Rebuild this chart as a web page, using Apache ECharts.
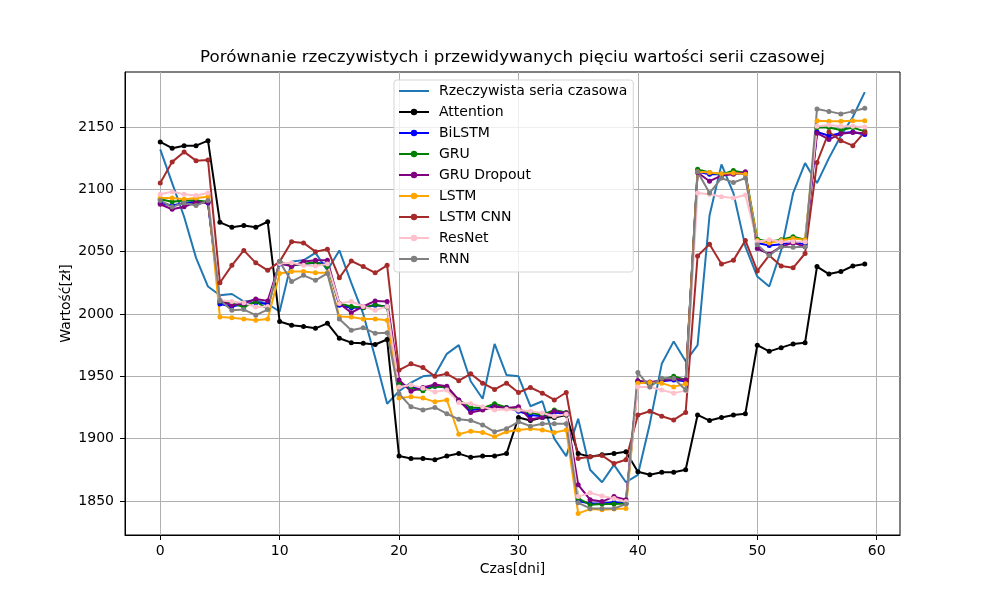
<!DOCTYPE html>
<html>
<head>
<meta charset="utf-8">
<title>Porównanie serii czasowej</title>
<script src="https://cdn.jsdelivr.net/npm/echarts@6.0.0/dist/echarts.min.js"></script>
<style>
  html, body { margin: 0; padding: 0; background: #fff; }
  #chart { width: 1000px; height: 600px; }
</style>
</head>
<body>
<div id="chart"></div>
<script>
// dni (os X)
const days = Array.from({ length: 60 }, (_, i) => i);
const xTicks = [0, 10, 20, 30, 40, 50, 60];
const yTicks = [1850, 1900, 1950, 2000, 2050, 2100, 2150];

// wartości
const real = [2132, 2105, 2078, 2045, 2022, 2015, 2016, 2010, 2011, 2008, 2002, 2042, 2043, 2049, 2035, 2051, 2025, 2000, 1965, 1928, 1938, 1945, 1950, 1951, 1968, 1975, 1946, 1932, 1976, 1951, 1950, 1926, 1930, 1900, 1886, 1916, 1875, 1865, 1879, 1865, 1871, 1912, 1960, 1978, 1962, 1975, 2079, 2120, 2097, 2054, 2030, 2022, 2051, 2097, 2121, 2105, 2125, 2143, 2158, 2178];
const attention = [2138, 2133, 2135, 2135, 2139, 2073.5, 2069.5, 2071, 2069.5, 2074, 1994, 1991, 1990, 1988.5, 1992.5, 1980.5, 1977, 1976.5, 1975.5, 1979.5, 1886, 1884, 1884, 1883, 1886, 1888, 1885, 1886, 1886, 1888, 1917, 1914.5, 1917, 1917, 1919, 1888, 1885.5, 1887, 1888, 1889.5, 1873.5, 1871, 1873, 1873, 1875, 1919, 1914.5, 1917, 1919, 1920, 1975, 1970, 1973, 1976, 1977, 2038, 2032, 2034, 2038.5, 2040];
const biLstm = [2089, 2087, 2089, 2090, 2089, 2008, 2006, 2008, 2009, 2008, 2040, 2039, 2040, 2041, 2040, 2007, 2005, 2005, 2007, 2006, 1944, 1941, 1940, 1942, 1941, 1930, 1923, 1924, 1926, 1925, 1922, 1919, 1918, 1921, 1920, 1850, 1848, 1848, 1849, 1848, 1946, 1944, 1946, 1947, 1946, 2114, 2112, 2112, 2113, 2112, 2057, 2055, 2056, 2058, 2056, 2146, 2143, 2145, 2146, 2144];
const gru = [2092, 2090, 2091, 2091, 2090, 2010, 2008.5, 2005.5, 2010, 2004, 2042, 2039, 2040, 2041.5, 2038, 2008.5, 2006, 2005, 2007.5, 2005.5, 1944.5, 1940.5, 1938.5, 1942, 1941, 1931, 1925, 1924.5, 1928, 1925, 1923, 1921, 1919, 1923, 1921, 1852, 1847, 1847.5, 1847.5, 1848, 1946, 1944.5, 1947, 1950, 1947, 2116, 2113.5, 2112, 2115, 2113, 2060, 2058, 2059.5, 2062, 2059.5, 2149.5, 2149.5, 2147.5, 2149.5, 2146.5];
const gruDropout = [2088, 2084, 2086, 2089.5, 2089.5, 2010.5, 2007, 2008.5, 2012, 2010.5, 2041, 2038, 2042, 2043, 2043, 2008.5, 2001, 2006, 2010.5, 2010, 1947, 1938, 1941, 1943.5, 1942, 1931, 1921, 1923, 1925.5, 1924.5, 1925.5, 1915.5, 1917, 1922, 1920.5, 1863, 1851, 1849.5, 1853.5, 1851, 1946.5, 1945.5, 1946.5, 1948, 1947, 2113.5, 2106.5, 2111, 2112, 2114, 2052.5, 2048, 2054, 2057, 2054, 2145, 2140, 2144.5, 2145.5, 2145];
const lstm = [2093, 2093, 2092, 2093, 2094, 1997.5, 1997, 1996, 1995, 1996, 2032.5, 2034, 2034, 2033, 2033, 1998, 1997.5, 1996, 1996, 1995, 1932.5, 1933.5, 1932.5, 1929.5, 1931, 1903.5, 1906, 1905, 1901.5, 1905.5, 1907, 1908, 1907, 1905, 1907, 1840, 1843.5, 1843, 1843.5, 1844, 1944.5, 1945, 1944.5, 1941.5, 1944, 2114, 2113.5, 2112.5, 2113, 2112, 2059, 2057, 2059, 2060.5, 2059.5, 2155, 2154.5, 2154.5, 2155, 2155];
const lstmCnn = [2105, 2122, 2130, 2123, 2123.5, 2025, 2039, 2051, 2041, 2035, 2042, 2058, 2057, 2050, 2052, 2029, 2042.5, 2038, 2033, 2039, 1955, 1960, 1957, 1950, 1952, 1946.5, 1952, 1944.5, 1939.5, 1944.5, 1937, 1941, 1936.5, 1931, 1937, 1884, 1885.5, 1886.5, 1880, 1883, 1919, 1922, 1918, 1915, 1921, 2046.5, 2056, 2040, 2043, 2059, 2034.5, 2047, 2038.5, 2037, 2048.5, 2121.5, 2146, 2139, 2135, 2146];
const resNet = [2096, 2098, 2096, 2095, 2097, 2011, 2010, 2009, 2005.5, 2006, 2040.5, 2041, 2039, 2038.5, 2040, 2008.5, 2010, 2006, 2003, 2006, 1941.5, 1943, 1940.5, 1937.5, 1939, 1929, 1928, 1925.5, 1923, 1923.5, 1923, 1922, 1920.5, 1918, 1919.5, 1853.5, 1856.5, 1854, 1852, 1849.5, 1941.5, 1941.5, 1939, 1936.5, 1938.5, 2097, 2096, 2094, 2093, 2095.5, 2058, 2059.5, 2058, 2058, 2058, 2150.5, 2151.5, 2150.5, 2150.5, 2150];
const rnn = [2091, 2086, 2089, 2087, 2091, 2011, 2003, 2003.5, 1999, 2003.5, 2042, 2026, 2031, 2027, 2032.5, 1996, 1987, 1989, 1984.5, 1985, 1936, 1925.5, 1923, 1925, 1920, 1915.5, 1914.5, 1911, 1905.5, 1908, 1913.5, 1910, 1912, 1912, 1912, 1848.5, 1844, 1844, 1844, 1847.5, 1953, 1941.5, 1948.5, 1948.5, 1939, 2114, 2097, 2109, 2105.5, 2109, 2055.5, 2047, 2054, 2053.5, 2054, 2164.5, 2162.5, 2160.5, 2162.5, 2165];

const font = 'DejaVu Sans';

// lista serii: nazwa, dane, kolor, czy z punktami
const seriesList = [
  ['Rzeczywista seria czasowa', real, '#1f77b4', false],
  ['Attention', attention, '#000000', true],
  ['BiLSTM', biLstm, '#0000ff', true],
  ['GRU', gru, '#008000', true],
  ['GRU Dropout', gruDropout, '#800080', true],
  ['LSTM', lstm, '#ffa500', true],
  ['LSTM CNN', lstmCnn, '#a52a2a', true],
  ['ResNet', resNet, '#ffc0cb', true],
  ['RNN', rnn, '#808080', true]
];

let chart = echarts.init(document.getElementById('chart'), null, { renderer: 'canvas' });

let series = seriesList.map(s => {
  return {
    name: s[0],
    type: 'line',
    data: days.map((d, i) => [d, s[1][i]]),
    symbol: s[3] ? 'circle' : 'none',
    symbolSize: 5,
    showSymbol: s[3],
    color: s[2],
    lineStyle: { width: 2, color: s[2] },
    itemStyle: { color: s[2] },
    emphasis: { disabled: true },
    animation: false
  };
});

// legenda: seria rzeczywista bez punktu
let legendData = seriesList.map(s => {
  if (s[3]) {
    return { name: s[0] };
  }
  return { name: s[0], itemStyle: { opacity: 0 } };
});

chart.setOption({
  animation: false,
  graphic: [
    {
      type: 'text',
      x: 512.5,
      y: 58,
      style: {
        text: 'Porównanie rzeczywistych i przewidywanych pięciu wartości serii czasowej',
        fontSize: 16.7,
        fontFamily: font,
        fill: '#000',
        align: 'center',
        verticalAlign: 'middle'
      }
    }
  ],
  grid: {
    left: 125,
    top: 72,
    width: 775,
    height: 463,
    show: true,
    borderColor: '#000',
    borderWidth: 1,
    backgroundColor: 'transparent'
  },
  legend: {
    orient: 'vertical',
    left: 394,
    top: 80,
    padding: [4, 6, 6, 4],
    itemWidth: 30,
    itemHeight: 8,
    itemGap: 7,
    backgroundColor: 'rgba(255,255,255,0.8)',
    borderColor: '#d5d5d5',
    borderWidth: 1,
    borderRadius: 3,
    textStyle: {
      fontFamily: font,
      fontSize: 14,
      lineHeight: 14,
      color: '#000',
      padding: [0, 0, 0, 5]
    },
    data: legendData
  },
  xAxis: {
    type: 'value',
    min: -2.95,
    max: 61.95,
    name: 'Czas[dni]',
    nameLocation: 'middle',
    nameGap: 27,
    nameMoveOverlap: false,
    nameTextStyle: { fontFamily: font, fontSize: 14, color: '#000' },
    axisLine: { show: true, onZero: false, lineStyle: { color: '#000', width: 1 } },
    axisTick: { show: true, length: 5, customValues: xTicks, lineStyle: { color: '#000' } },
    axisLabel: { customValues: xTicks, margin: 9, fontFamily: font, fontSize: 14, color: '#000' },
    splitLine: { show: true, lineStyle: { color: '#b0b0b0', width: 1 } }
  },
  yAxis: {
    type: 'value',
    min: 1822.7,
    max: 2194.1,
    name: 'Wartość[zł]',
    nameLocation: 'middle',
    nameGap: 52,
    nameMoveOverlap: false,
    nameTextStyle: { fontFamily: font, fontSize: 14, color: '#000' },
    axisLine: { show: true, onZero: false, lineStyle: { color: '#000', width: 1 } },
    axisTick: { show: true, length: 5, customValues: yTicks, lineStyle: { color: '#000' } },
    axisLabel: {
      customValues: yTicks,
      margin: 11,
      fontFamily: font,
      fontSize: 14,
      color: '#000',
      formatter: v => String(v)
    },
    splitLine: { show: true, lineStyle: { color: '#b0b0b0', width: 1 } }
  },
  series: series
});
</script>
</body>
</html>
